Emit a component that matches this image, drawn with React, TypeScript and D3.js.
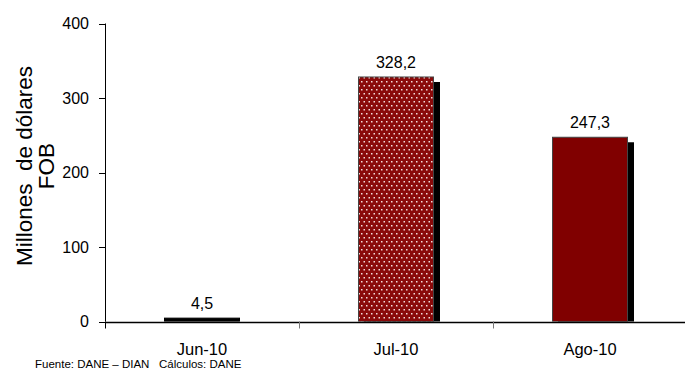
import React from "react";
import * as d3 from "d3";

const categories = ["Jun-10", "Jul-10", "Ago-10"];
const values = [4.5, 328.2, 247.3];
const valueLabels = ["4,5", "328,2", "247,3"];
const yTicks = [0, 100, 200, 300, 400];

const W = 685;
const H = 374;
const FONT = "'Liberation Sans', Arial, sans-serif";

export default function App() {
  const x = d3.scaleBand<string>().domain(categories).range([105, 687]);
  const y = d3.scaleLinear().domain([0, 400]).range([321.5, 23.5]);
  const barW = 76;
  const shadow = { dx: 6, dy: 5 };
  const x0 = 105.5;
  const y0 = y(0);

  return (
    <svg
      width={W}
      height={H}
      style={{ position: "absolute", left: 0, top: 0, background: "#fff" }}
      fontFamily={FONT}
    >
      <defs>
        <pattern id="dots" width="5" height="8" patternUnits="userSpaceOnUse">
          <rect width="5" height="8" fill="#8a0a0a" />
          <rect x="1" y="1" width="1.5" height="1.5" fill="#f4dcdc" />
          <rect x="3.5" y="5" width="1.5" height="1.5" fill="#f4dcdc" />
        </pattern>
        <clipPath id="plot">
          <rect x={x0} y={0} width={W - x0} height={y0} />
        </clipPath>
      </defs>

      {/* bars */}
      <g clipPath="url(#plot)">
        {categories.map((c, i) => {
          const cx = (x(c) as number) + x.bandwidth() / 2;
          const top = y(values[i]);
          const h = y0 - top;
          const left = cx - barW / 2;
          const fill = i === 0 ? "#000" : i === 1 ? "url(#dots)" : "#800000";
          return (
            <g key={c}>
              {i > 0 && (
                <rect
                  x={left + shadow.dx}
                  y={top + shadow.dy}
                  width={barW}
                  height={h}
                  fill="#000"
                />
              )}
              <rect
                x={left + 0.5}
                y={top}
                width={barW - 1}
                height={h}
                fill={fill}
                stroke={i === 0 ? "#000" : "#444"}
                strokeWidth={1}
              />
            </g>
          );
        })}
      </g>

      {/* value labels */}
      {categories.map((c, i) => {
        const cx = (x(c) as number) + x.bandwidth() / 2;
        return (
          <text
            key={"v" + c}
            x={cx}
            y={y(values[i]) - 9}
            textAnchor="middle"
            fontSize={16}
            fill="#000"
          >
            {valueLabels[i]}
          </text>
        );
      })}

      {/* y axis */}
      <line x1={x0} x2={x0} y1={y(400)} y2={y0} stroke="#000" strokeWidth={1} />
      {yTicks.map((t) => (
        <g key={"yt" + t}>
          <line x1={99} x2={x0} y1={Math.round(y(t)) + 0.5} y2={Math.round(y(t)) + 0.5} stroke="#000" />
          <text x={89} y={y(t) + 5.5} textAnchor="end" fontSize={16} fill="#000">
            {t}
          </text>
        </g>
      ))}

      {/* x axis */}
      <line x1={x0} x2={W} y1={Math.round(y0) + 0.5} y2={Math.round(y0) + 0.5} stroke="#000" strokeWidth={1.5} />
      {categories.map((c) => {
        const bx = Math.round(x(c) as number) + 0.5;
        return (
          <line key={"xt" + c} x1={bx} x2={bx} y1={y0} y2={y0 + 7} stroke={c === categories[0] ? "#000" : "#777"} />
        );
      })}
      {categories.map((c) => {
        const cx = (x(c) as number) + x.bandwidth() / 2;
        return (
          <text key={"xl" + c} x={cx} y={355} textAnchor="middle" fontSize={16.5} fill="#000">
            {c}
          </text>
        );
      })}

      {/* y axis title */}
      <g transform="translate(0,166) rotate(-90)">
        <text x={0} y={32} textAnchor="middle" fontSize={22.5} fill="#000" style={{ whiteSpace: "pre" }}>
          {"Millones  de dólares"}
        </text>
        <text x={0} y={54} textAnchor="middle" fontSize={22.5} fill="#000">
          FOB
        </text>
      </g>

      {/* source */}
      <text x={35} y={368} fontSize={11.5} fill="#000" style={{ whiteSpace: "pre" }}>
        {"Fuente: DANE – DIAN   Cálculos: DANE"}
      </text>
    </svg>
  );
}
